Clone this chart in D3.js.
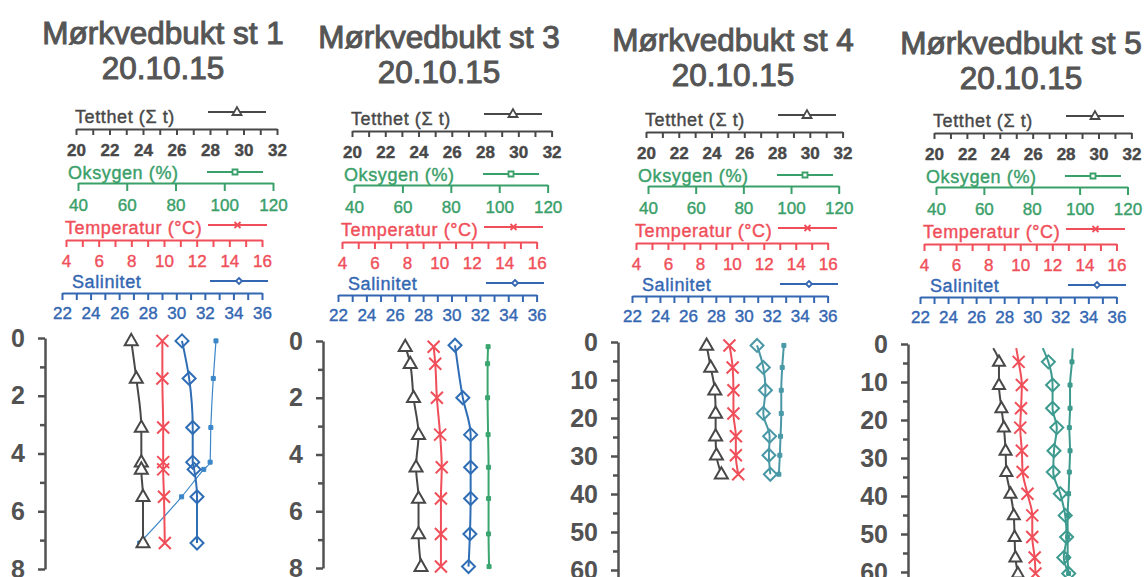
<!DOCTYPE html>
<html>
<head>
<meta charset="utf-8">
<script src="https://cdn.jsdelivr.net/npm/d3@7"></script>
<style>
  body { margin: 0; background: #fff; }
  svg { display: block; font-family: "Liberation Sans", Arial, sans-serif; }
</style>
</head>
<body>
<svg id="chart" width="1145" height="577"></svg>
<script>
// titles
const TITLES = ["Mørkvedbukt st 1", "Mørkvedbukt st 3", "Mørkvedbukt st 4", "Mørkvedbukt st 5"];
const DATE = "20.10.15";

// header axis labels
const TETTHET_TICKS = [20, 22, 24, 26, 28, 30, 32];
const OKSYGEN_TICKS = [40, 60, 80, 100, 120];
const TEMP_TICKS = [4, 6, 8, 10, 12, 14, 16];
const SAL_TICKS = [22, 24, 26, 28, 30, 32, 34, 36];

// depth axis labels
const DEPTH_TICKS_SHALLOW = [0, 2, 4, 6, 8];
const DEPTH_TICKS_DEEP = [0, 10, 20, 30, 40, 50, 60];

// st 1
const st1Depth = [0.1, 1.4, 3.1, 4.3, 4.55, 5.5, 7.1];
const st1Tetthet = [23.3, 23.6, 23.9, 23.9, 23.9, 24.0, 24.0];
const st1Temp = [9.9, 9.9, 9.95, 9.95, 9.95, 10.0, 10.05];
const st1Sal = [30.4, 30.9, 31.15, 31.15, 31.25, 31.45, 31.45];
const st1Oxy = [96.6, 95.5, 94.5, 94.2, 91.6, 82.5, 65.3];

// st 3
const st3Depth = [0.2, 0.8, 2.0, 3.3, 4.45, 5.55, 6.8, 7.95];
const st3Tetthet = [23.2, 23.5, 23.7, 24.0, 23.85, 24.0, 24.0, 24.15];
const st3Temp = [9.65, 9.75, 9.85, 10.05, 10.15, 10.1, 10.1, 10.1];
const st3SalDepth = [0.15, 2.0, 3.3, 4.45, 5.55, 6.8, 7.95];
const st3Sal = [30.25, 30.8, 31.35, 31.35, 31.35, 31.3, 31.2];
const st3Oxy = [95.4, 95.2, 95.2, 95.4, 95.6, 95.6, 95.6, 95.8];

// st 4
const st4Depth = [0.9, 6.7, 12.7, 18.8, 24.8, 29.8, 34.8];
const st4Tetthet = [23.7, 23.95, 24.2, 24.25, 24.25, 24.3, 24.6];
const st4Temp = [9.85, 10.05, 10.1, 10.1, 10.25, 10.25, 10.4];
const st4Sal = [30.95, 31.4, 31.55, 31.4, 31.85, 31.8, 31.9];
const st4Oxy = [97.0, 96.3, 95.9, 95.9, 95.6, 95.3, 94.9];

// st 5
const st5Depth = [1.1, 4.7, 10.8, 16.9, 22.0, 28.1, 33.7, 39.4, 45.1, 50.8, 56.2, 60.4];
const st5Tetthet = [23.6, 23.95, 23.95, 24.1, 24.25, 24.35, 24.4, 24.65, 24.85, 24.9, 24.95, 25.1];
const st5Temp = [9.75, 9.9, 10.1, 10.05, 10.0, 10.1, 10.15, 10.45, 10.75, 10.75, 10.9, 10.95];
const st5Sal = [30.75, 31.15, 31.45, 31.45, 31.75, 31.55, 31.5, 32.0, 32.35, 32.45, 32.25, 32.6];
const st5Oxy = [97.1, 96.8, 96.0, 96.0, 95.7, 96.0, 95.7, 95.4, 95.0, 95.0, 95.0, 95.4];

const stations = [
  { depth: st1Depth, tetthet: st1Tetthet, temp: st1Temp, sal: st1Sal, oxy: st1Oxy },
  { depth: st3Depth, tetthet: st3Tetthet, temp: st3Temp, sal: st3Sal, salDepth: st3SalDepth, oxy: st3Oxy },
  { depth: st4Depth, tetthet: st4Tetthet, temp: st4Temp, sal: st4Sal, oxy: st4Oxy },
  { depth: st5Depth, tetthet: st5Tetthet, temp: st5Temp, sal: st5Sal, oxy: st5Oxy },
];

// layout per panel
const PANEL_X = [0, 276, 570, 858];
const PANEL_DY = [0, 2, 3, 4];
const PANEL_K = [1, 0.993, 0.978, 0.982];
const TITLE_Y = [33, 37, 40, 43];
const DEPTH_AXIS_X = [45, 323, 618, 908];
const DEPTH_RANGE = [[338, 569], [341, 568], [342, 570], [344, 572]];
const DEPTH_MAX = [8, 8, 60, 60];
const MARK_FROM = [0, 0, 0, 1];
const SAL_COLORS = ["#2f6db5", "#2f6db5", "#4a98a6", "#3d9a8e"];
const OXY_COLORS = ["#3b86c8", "#3aa56f", "#4a98a6", "#3d9a8e"];
const OXY_WIDTH = [1.2, 2, 2, 2];

const GREY = "#525252";
const COLORS = { tetthet: "#484848", oxy: "#3aa06a", temp: "#f04f5a", sal: "#3467b2" };

const HEADER_ROWS = [
  { key: "tetthet", label: "Tetthet (Σ t)", domain: [20, 32], x0: 76, w: 201, axisY: 129, step: 1,
    labels: TETTHET_TICKS, tickLen: 6, pad: 9, labelX: 75, labelY: 117, legend: [208, 266], legendY: 112, marker: "triangle" },
  { key: "oxy", label: "Oksygen (%)", domain: [40, 120], x0: 78, w: 195, axisY: 183, step: 20,
    labels: OKSYGEN_TICKS, tickLen: 8, pad: 8, labelX: 68, labelY: 173, legend: [207, 263], legendY: 172, marker: "square" },
  { key: "temp", label: "Temperatur (°C)", domain: [4, 16], x0: 66, w: 196, axisY: 240, step: 1,
    labels: TEMP_TICKS, tickLen: 7, pad: 8, labelX: 65, labelY: 228, legend: [208, 267], legendY: 225, marker: "cross" },
  { key: "sal", label: "Salinitet", domain: [22, 36], x0: 62, w: 200, axisY: 293, step: 1,
    labels: SAL_TICKS, tickLen: 7, pad: 7, labelX: 72, labelY: 282, legend: [210, 268], legendY: 281, marker: "diamond" },
];

const svg = d3.select("#chart");

// marker shapes
function markerPath(type, s) {
  const h = s * 0.87;
  if (type === "triangle") return `M0,${-h * 0.62}L${s / 2},${h * 0.38}L${-s / 2},${h * 0.38}Z`;
  if (type === "cross") return `M${-s / 2},${-s / 2}L${s / 2},${s / 2}M${-s / 2},${s / 2}L${s / 2},${-s / 2}`;
  if (type === "diamond") return `M0,${-s / 2}L${s / 2},0L0,${s / 2}L${-s / 2},0Z`;
  return `M${-s / 2},${-s / 2}h${s}v${s}h${-s}Z`;
}

function drawMarker(g, type, x, y, size, color, width, fill) {
  g.append("path")
    .attr("transform", `translate(${x},${y})`)
    .attr("d", markerPath(type, size))
    .attr("fill", fill)
    .attr("stroke", color)
    .attr("stroke-width", width);
}

// header axes with legend samples
function drawHeader(p) {
  const ox = PANEL_X[p];
  const dy = PANEL_DY[p];
  const k = PANEL_K[p];
  const g = svg.append("g");
  const scales = {};

  HEADER_ROWS.forEach((row) => {
    const color = COLORS[row.key];
    const scale = d3.scaleLinear()
      .domain(row.domain)
      .range([ox + row.x0, ox + row.x0 + row.w * k]);
    scales[row.key] = scale;

    const labelSet = new Set(row.labels);
    const axis = d3.axisBottom(scale)
      .tickValues(d3.range(row.domain[0], row.domain[1] + 0.01, row.step))
      .tickFormat((d) => (labelSet.has(d) ? d : ""))
      .tickSize(row.tickLen)
      .tickSizeOuter(0)
      .tickPadding(row.pad);

    const ax = g.append("g")
      .attr("transform", `translate(0,${row.axisY + dy})`)
      .call(axis);
    ax.selectAll("path, line").attr("stroke", color).attr("stroke-width", 2);
    ax.selectAll("text")
      .attr("fill", color)
      .attr("font-size", 17)
      .attr("font-weight", row.key === "tetthet" ? "bold" : "normal")
      .attr("stroke", color)
      .attr("stroke-width", 0.4)
      .style("font-family", "'Liberation Sans', Arial, sans-serif");

    g.append("text")
      .attr("x", ox + row.labelX)
      .attr("y", row.labelY + dy)
      .attr("dy", "0.35em")
      .attr("font-size", 18)
      .attr("letter-spacing", 0.6)
      .attr("fill", color)
      .attr("stroke", color)
      .attr("stroke-width", 0.4)
      .text(row.label);

    // legend sample
    g.append("line")
      .attr("x1", ox + row.legend[0])
      .attr("x2", ox + row.legend[1])
      .attr("y1", row.legendY + dy)
      .attr("y2", row.legendY + dy)
      .attr("stroke", color)
      .attr("stroke-width", 2);
    const mx = ox + (row.legend[0] + row.legend[1]) / 2;
    const msize = row.marker === "triangle" ? 9 : row.marker === "square" ? 5 : 6;
    drawMarker(g, row.marker, mx, row.legendY + dy, msize, color, 1.8, "#fff");
  });

  return scales;
}

// one station panel
function drawPanel(p) {
  const st = stations[p];
  const ox = PANEL_X[p];
  const scales = drawHeader(p);

  // title
  [TITLES[p], DATE].forEach((t, i) => {
    svg.append("text")
      .attr("x", ox + 163)
      .attr("y", TITLE_Y[p] + i * 35)
      .attr("dy", "0.35em")
      .attr("text-anchor", "middle")
      .attr("font-size", 31.5)
      .attr("fill", "#555")
      .attr("stroke", "#555")
      .attr("stroke-width", 1)
      .text(t);
  });

  // depth axis
  const maxD = DEPTH_MAX[p];
  const y = d3.scaleLinear().domain([0, maxD]).range(DEPTH_RANGE[p]);
  const deep = maxD > 10;
  const axisEnd = deep ? maxD + 10 : maxD;
  const yAxisScale = y.copy().domain([0, axisEnd]).range([y(0), y(axisEnd)]);
  const labels = new Set(deep ? DEPTH_TICKS_DEEP : DEPTH_TICKS_SHALLOW);
  const yAxis = d3.axisLeft(yAxisScale)
    .tickValues(d3.range(0, axisEnd + 0.01, deep ? 5 : 1))
    .tickFormat((d) => (labels.has(d) ? d : ""))
    .tickSize(7)
    .tickSizeOuter(0)
    .tickPadding(13);
  const ay = svg.append("g")
    .attr("transform", `translate(${DEPTH_AXIS_X[p]},0)`)
    .call(yAxis);
  ay.selectAll("path, line").attr("stroke", GREY).attr("stroke-width", 2.5);
  ay.selectAll(".tick")
    .filter((d) => !labels.has(d))
    .select("line")
    .attr("x2", -5);
  ay.selectAll("text")
    .attr("fill", GREY)
    .attr("font-size", 25)
    .attr("font-weight", "bold")
    .style("font-family", "'Liberation Sans', Arial, sans-serif");

  // series
  const series = [
    { key: "oxy", values: st.oxy, depth: st.depth, color: OXY_COLORS[p], width: OXY_WIDTH[p], marker: "square", size: 4, fill: OXY_COLORS[p] },
    { key: "sal", values: st.sal, depth: st.salDepth || st.depth, color: SAL_COLORS[p], width: 2, marker: "diamond", size: 13, fill: "none" },
    { key: "temp", values: st.temp, depth: st.depth, color: COLORS.temp, width: 2, marker: "cross", size: 12, fill: "none" },
    { key: "tetthet", values: st.tetthet, depth: st.depth, color: COLORS.tetthet, width: 2, marker: "triangle", size: p === 3 ? 12 : 13, fill: "#fff" },
  ];

  const g = svg.append("g");
  series.forEach((s) => {
    const x = scales[s.key];
    const pts = s.values.map((v, i) => ({ v, d: s.depth[i] }));
    const line = d3.line()
      .x((d) => x(d.v))
      .y((d) => y(d.d))
      .curve(d3.curveMonotoneY);
    g.append("path")
      .datum(pts)
      .attr("d", line)
      .attr("fill", "none")
      .attr("stroke", s.color)
      .attr("stroke-width", s.width);
    pts.slice(MARK_FROM[p]).forEach((d) => {
      drawMarker(g, s.marker, x(d.v), y(d.d), s.size, s.color, s.key === "oxy" ? 1 : 2, s.fill);
    });
  });
}

stations.forEach((st, p) => drawPanel(p));
</script>
</body>
</html>
